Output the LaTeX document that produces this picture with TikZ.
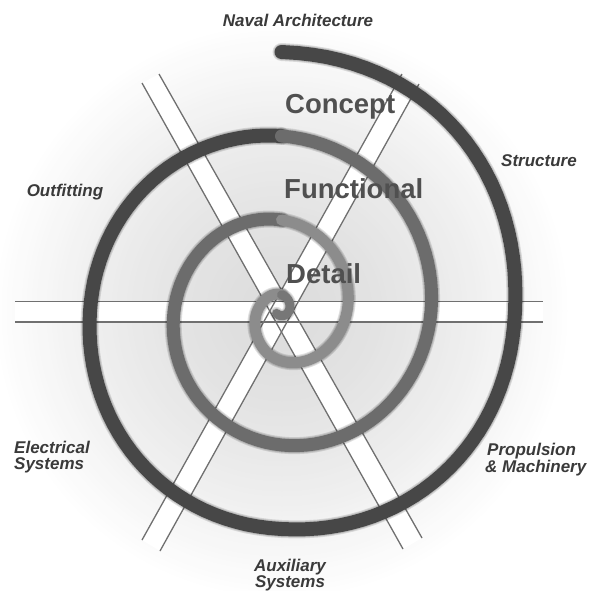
\documentclass[tikz,border=0pt]{standalone}
\usepackage{fontspec}
\setmainfont{Liberation Sans}
\definecolor{roadc}{HTML}{707070}
\definecolor{labc}{HTML}{3A3A3A}
\definecolor{bigc}{HTML}{505050}
\definecolor{outc}{HTML}{474747}
\definecolor{midc}{HTML}{6C6C6C}
\definecolor{innc}{HTML}{8C8C8C}
\begin{document}
\begin{tikzpicture}[x=1pt,y=-1pt,
  road/.style={draw=roadc, line width=1.3pt},
  lab/.style={font=\bfseries\itshape\fontsize{17}{15.5}\selectfont, text=labc, inner sep=0pt, align=center},
  big/.style={font=\bfseries\fontsize{27.5}{30}\selectfont, text=bigc, inner sep=0pt, anchor=base west},
  tube/.style={line cap=round, line join=round},
  halo/.style={line cap=round, line join=round, draw=black, opacity=0.12},
  declare function={
    Rr(\t)=ifthenelse(\t<2.75, 254.5-84*\t, 7+16.5*exp(-5*max(0,\t-2.75)));
    pp(\t)=min(1,0.93+0.07*\t);
    Ee(\t)=10*min(1,Rr(\t)/40);
    Sx(\t)=sign(sin(360*\t))*pow(abs(sin(360*\t))+0.00001,pp(\t));
    Sy(\t)=sign(cos(360*\t))*pow(abs(cos(360*\t))+0.00001,pp(\t));
    Px(\t)=281.5+Rr(\t)*Sx(\t);
    Py(\t)=306.5-Rr(\t)*Sy(\t)+Ee(\t)*(1-cos(360*\t))/2;
  }]
\useasboundingbox (0,0) rectangle (595,590);
\fill[white] (0,0) rectangle (595,590);
% soft radial background
\foreach \i in {0,...,57} {
  \pgfmathsetmacro\rr{290-5*\i}
  \pgfmathsetmacro\gg{0.865+0.135*(\rr/290)^1.5}
  \definecolor{bgtmp}{gray}{\gg}
  \fill[bgtmp] (282,311) circle (\rr);
}
% roads
\fill[white] (15,301.5) rectangle (543,322);
\fill[white] (142,83) -- (159,74) -- (422,538) -- (403,549) -- cycle;
\fill[white] (142,540) -- (160,551) -- (419,84) -- (402,74) -- cycle;
\draw[road] (15,301.5) -- (543,301.5);
\draw[road] (15,322) -- (543,322);
\draw[road] (142,83) -- (403,549);
\draw[road] (159,74) -- (422,538);
\draw[road] (142,540) -- (402,74);
\draw[road] (160,551) -- (419,84);
% spiral
\foreach \w in {4,2} {
  \draw[halo, line width=14pt+\w pt] plot[domain=0:1, samples=121, variable=\t] ({Px(\t)},{Py(\t)});
  \draw[halo, line width=13pt+\w pt] plot[domain=1:2, samples=101, variable=\t] ({Px(\t)},{Py(\t)});
  \draw[halo, line width=11pt+\w pt] plot[domain=2:3, samples=101, variable=\t] ({Px(\t)},{Py(\t)});
  \draw[halo, line width=9pt+\w pt] plot[domain=3:3.62, samples=60, variable=\t] ({Px(\t)},{Py(\t)});
}
\draw[tube, draw=outc, line width=14pt] plot[domain=0:1, samples=121, variable=\t] ({Px(\t)},{Py(\t)});
\draw[tube, draw=midc, line width=13pt] plot[domain=1:2, samples=101, variable=\t] ({Px(\t)},{Py(\t)});
\draw[tube, draw=innc, line width=11pt] plot[domain=2:3, samples=101, variable=\t] ({Px(\t)},{Py(\t)});
\draw[tube, draw=innc!85!black, line width=9pt] plot[domain=3:3.62, samples=60, variable=\t] ({Px(\t)},{Py(\t)});
% labels
\node[lab] (naval) at (298,20) {Naval Architecture};
\node[lab] (structure) at (539,161) {Structure};
\node[lab] (outfit) at (65,192) {Outfitting};
\node[lab, anchor=west, align=left] (elec) at (14,457) {Electrical\\Systems};
\node[lab, anchor=west, align=left] (prop) at (485,460) {\hspace*{2pt}Propulsion\\\& Machinery};
\node[lab] (aux) at (290,575) {Auxiliary\\Systems};
\node[big] (concept) at (285,113) {Concept};
\node[big] (functional) at (284,198) {Functional};
\node[big] (detail) at (286,283) {Detail};
\end{tikzpicture}
\end{document}
